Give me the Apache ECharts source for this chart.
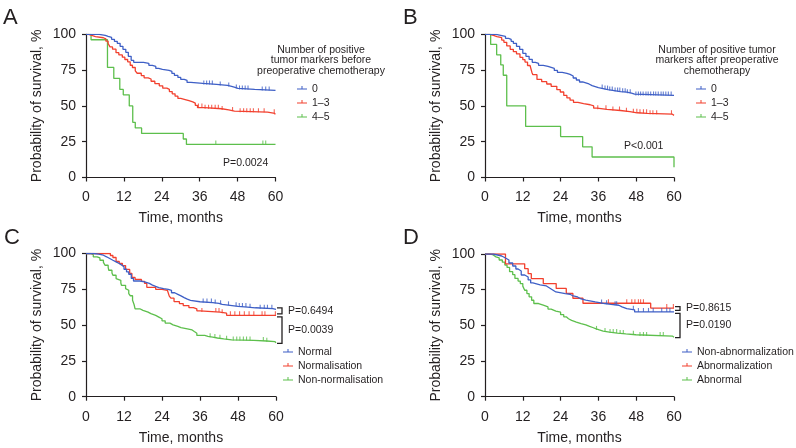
<!DOCTYPE html>
<html><head><meta charset="utf-8">
<script src="https://cdn.jsdelivr.net/npm/echarts/dist/echarts.min.js"></script>
<style>html,body{margin:0;padding:0;background:#fff}#c{width:796px;height:448px}</style>
</head><body><div id="c"></div>
<script>
// ---------- data (time in months, survival in %) ----------
const namesA = ['0', '1–3', '4–5'];
const namesB = ['0', '1–3', '4–5'];
const namesC = ['Normal', 'Normalisation', 'Non-normalisation'];
const namesD = ['Non-abnormalization', 'Abnormalization', 'Abnormal'];

const kmA0 = [[0,100],[4.2,99.3],[6.1,98.6],[7.0,97.9],[8.1,96.5],[9.0,95.1],[9.9,93.7],[10.8,91.6],[11.7,89.5],[12.6,87.4],[13.4,84.6],[14.3,81.8],[15.1,80.4],[18.2,79.7],[19.9,78.3],[21.0,77.6],[22.1,76.2],[23.0,75.5],[24.2,74.8],[26.3,74.1],[27.2,72.7],[28.0,71.3],[29.1,69.9],[30.0,68.5],[31.1,67.8],[32.0,66.4],[33.2,65.7],[37.0,65.0],[41.3,64.3],[44.8,63.6],[46.1,62.9],[47.2,62.2],[48.1,61.5],[53.4,60.8],[60,60.8]];
const kmA1 = [[0,100],[0.8,99.2],[1.8,98.4],[3.0,97.6],[5.5,96.8],[6.3,95.2],[7.0,93.6],[7.6,91.2],[8.4,89.6],[9.5,87.2],[10.4,85.6],[11.5,84.0],[12.3,82.4],[13.2,80.8],[14.0,78.4],[14.7,76.8],[15.6,74.4],[16.2,72.8],[17.5,71.2],[18.4,69.6],[19.7,68.8],[20.6,67.2],[21.8,65.6],[23.2,64.0],[24.3,62.4],[25.6,61.6],[26.4,60.0],[27.3,58.4],[28.2,56.8],[29.1,55.2],[30.0,54.4],[31.4,53.6],[32.6,52.8],[33.8,52.0],[34.6,50.4],[35.3,48.8],[37.5,48.0],[43.0,47.2],[45.2,46.4],[47.0,45.6],[57.5,44.8],[59.8,44.0],[60,44.0]];
const kmA2 = [[0,100],[1.6,96.2],[6.8,76.9],[8.8,69.2],[10.7,61.5],[11.8,57.7],[13.7,50.0],[14.8,38.5],[15.6,34.6],[17.6,30.8],[30.8,26.9],[31.8,23.1],[60,23.1]];
const censA0 = [37.3,38.2,39.1,40.0,42.5,45.2,47.6,48.6,49.5,50.4,51.3,55.8,56.9,58.0];
const censA1 = [35.6,36.7,37.7,38.8,39.8,40.9,41.9,43.1,46.4,48.8,49.9,50.9,52.0,53.0,54.6,56.4,59.6];
const censA2 = [41.1,56.0,56.9];

const kmB0 = [[0,100],[3.5,99.3],[5.0,98.6],[6.5,97.2],[7.5,96.5],[8.3,95.1],[9.0,93.7],[10.0,91.6],[11.0,89.5],[12.0,86.7],[13.0,84.6],[14.0,82.5],[15.0,80.4],[16.0,79.7],[17.0,78.3],[18.5,77.6],[20.0,76.9],[21.0,76.2],[22.0,74.8],[23.0,73.4],[24.5,72.7],[26.0,72.0],[27.0,70.9],[28.0,69.5],[29.0,68.1],[30.0,66.7],[31.0,66.0],[32.0,65.3],[33.0,64.2],[34.0,63.5],[35.0,62.8],[36.0,62.1],[37.5,61.4],[39.0,60.7],[41.0,60.0],[43.0,59.6],[45.0,58.9],[46.5,58.2],[47.5,57.3],[60,57.3]];
const kmB1 = [[0,100],[1.5,99.2],[2.7,98.4],[3.8,97.6],[5.3,96.0],[6.0,94.4],[6.9,91.9],[8.0,89.5],[9.0,87.9],[10.0,86.3],[11.1,83.9],[12.0,82.3],[12.7,80.6],[13.5,78.2],[14.3,77.4],[14.6,75.8],[14.9,73.4],[15.2,71.8],[16.5,68.5],[18.0,66.9],[19.6,65.3],[21.0,63.7],[22.8,61.3],[23.9,59.7],[25.0,57.3],[26.0,55.6],[27.0,54.0],[28.1,52.4],[29.5,51.6],[31.3,50.8],[33.4,50.0],[34.5,48.4],[35.6,47.6],[38.7,46.8],[43.0,46.0],[46.0,45.2],[48.3,44.8],[51.5,44.2],[59.5,43.4],[60,43.4]];
const kmB2 = [[0,100],[1.8,92.9],[3.7,85.7],[5.0,78.6],[5.8,71.4],[6.9,50.0],[12.9,35.7],[24.0,28.6],[31.0,21.4],[34.0,14.3],[60,7.1]];
const censB0 = [37.2,38.1,38.9,39.6,40.4,41.3,42.1,42.8,43.7,44.5,45.2,46.1,47.9,48.7,49.4,50.2,51.1,51.8,52.6,53.5,54.2,55.0,55.9,56.6,57.4,58.2,59.1];
const censB1 = [35.8,38.4,40.6,42.7,44.9,47.1,48.2,49.2,50.3,51.3,52.4,53.3,54.5,59.2];
const censB2 = [];

const kmC0 = [[0,100],[2.3,99.5],[4.0,98.8],[5.5,97.7],[6.5,96.5],[7.5,95.3],[8.5,94.2],[9.5,93.0],[10.5,91.9],[11.3,90.7],[12.0,89.0],[12.8,87.2],[13.5,85.5],[14.3,82.6],[15.0,80.8],[17.0,80.2],[18.5,79.1],[20.0,77.9],[21.0,77.0],[22.0,76.2],[23.0,75.5],[24.5,74.9],[26.0,74.3],[27.0,72.6],[28.0,71.5],[29.0,70.4],[30.0,69.2],[31.0,68.1],[32.0,67.3],[33.0,66.3],[36.0,65.7],[40.0,65.1],[42.0,64.5],[43.0,63.8],[45.5,63.1],[48.0,62.6],[51.0,62.1],[53.5,61.5],[59.0,61.0],[60,61.0]];
const kmC1 = [[0,100],[7.7,98.6],[8.5,97.2],[9.5,94.4],[10.5,93.0],[11.5,91.6],[12.5,88.9],[13.8,86.1],[14.5,83.3],[15.5,81.9],[17.5,80.5],[18.5,79.1],[19.2,76.4],[22.0,75.0],[24.0,74.3],[25.7,73.0],[26.3,70.2],[26.8,68.8],[27.8,66.4],[29.5,65.0],[30.7,63.6],[32.5,62.2],[33.9,61.4],[35.0,60.0],[36.0,59.1],[42.3,58.3],[44.4,56.8],[60,56.8]];
const kmC2 = [[0,100],[1.5,99.2],[2.3,97.7],[3.5,96.9],[4.4,95.3],[5.5,93.8],[6.0,91.8],[7.0,90.3],[7.2,88.3],[8.2,86.4],[8.5,84.8],[9.5,82.5],[10.0,81.3],[11.0,79.4],[11.2,77.8],[12.5,75.5],[12.7,74.3],[13.5,72.0],[14.0,70.5],[14.7,67.3],[15.2,64.2],[15.5,61.4],[17.0,60.3],[18.0,59.1],[19.6,58.0],[20.5,56.8],[22.0,55.6],[23.0,54.4],[24.0,53.0],[25.0,51.4],[26.5,50.2],[27.5,49.1],[29.0,48.2],[30.0,47.4],[32.0,46.6],[33.5,45.5],[34.2,44.3],[35.0,42.8],[37.5,42.2],[38.5,41.6],[40.0,41.0],[41.5,40.4],[43.5,39.7],[46.0,39.3],[53.0,38.9],[57.0,38.4],[59.7,37.6],[60,37.6]];
const censC0 = [37.0,38.2,39.6,40.8,42.5,45.0,47.4,48.4,49.4,50.5,51.8,55.0,56.3,57.3,58.7];
const censC1 = [36.6,41.0,42.0,43.0,45.6,47.0,48.5,50.0,51.5,53.0,55.6,56.5,59.8];
const censC2 = [39.2,40.7,42.3,44.4,46.5,47.6,48.6,49.7,50.7,51.8,56.0,57.1];

const kmD0 = [[0,100],[2.6,99.3],[4.0,98.6],[5.3,97.2],[6.5,95.8],[7.6,93.7],[8.8,91.6],[9.8,89.5],[10.5,88.1],[11.5,85.3],[12.6,83.9],[13.7,81.8],[14.5,79.7],[15.2,78.3],[17.5,77.6],[19.5,76.2],[20.5,74.8],[21.5,73.4],[22.5,72.3],[25.5,71.8],[27.0,70.6],[28.0,69.9],[29.4,68.5],[30.5,67.6],[32.0,66.4],[35.0,65.3],[38.0,64.7],[40.0,64.1],[42.5,63.0],[43.5,61.7],[45.0,60.9],[47.5,59.4],[60,59.4]];
const kmD1 = [[0,100],[6.5,93.1],[12.6,89.7],[13.7,86.2],[14.7,82.8],[18.5,79.3],[22.6,75.9],[25.8,72.4],[27.9,69.0],[31.1,65.5],[52.6,62.1],[60,62.1]];
const kmD2 = [[0,100],[1.5,99.3],[2.6,98.0],[3.5,97.3],[4.5,95.8],[5.5,94.3],[6.3,92.3],[7.0,90.6],[7.8,87.6],[8.8,85.5],[9.5,82.9],[10.5,81.0],[11.2,79.3],[12.0,77.5],[12.6,74.6],[13.3,72.3],[14.0,70.0],[14.8,67.6],[15.5,65.3],[17.0,64.1],[18.5,62.9],[20.0,61.4],[21.0,60.0],[22.5,59.2],[24.0,57.5],[25.0,56.0],[25.8,54.6],[26.5,53.5],[27.5,52.3],[29.0,51.2],[30.5,50.4],[32.0,49.3],[33.2,48.5],[34.2,47.6],[35.3,46.8],[36.3,46.0],[37.5,45.3],[39.5,44.6],[42.0,44.0],[44.7,43.4],[47.9,42.5],[59.5,41.7],[60,41.7]];
const censD0 = [37.0,38.6,41.3,41.8,47.1,48.7,50.3,51.9,53.4,56.1,57.7,58.7];
const censD1 = [39.2,45.0,46.6,47.6,48.7,49.4,50.3,57.7,59.8];
const censD2 = [35.4,38.1,39.7,40.7,41.8,42.9,43.9,47.1,49.2,50.3,51.3,55.6,56.6];

const pA = 'P=0.0024';
const pB = 'P<0.001';
const pC = ['P=0.6494', 'P=0.0039'];
const pD = ['P=0.8615', 'P=0.0190'];
const titleA = 'Number of positive\ntumor markers before\npreoperative chemotherapy';
const titleB = 'Number of positive tumor\nmarkers after preoperative\nchemotherapy';

// ---------- styling / layout ----------
const FONT = "'Liberation Sans', Arial, Helvetica, sans-serif";
const INK = '#231f20';
const COLORS = ['#3e5fc6', '#f2402e', '#5dbf4c'];
const grids = [
  {left: 86, top: 34.3, width: 189.5, height: 143.2},
  {left: 485, top: 34.3, width: 189, height: 143.2},
  {left: 86, top: 253.5, width: 190, height: 143.2},
  {left: 485, top: 254, width: 189, height: 142.7}
];
const panels = [
  {names: namesA, km: [kmA0, kmA1, kmA2], cens: [censA0, censA1, censA2]},
  {names: namesB, km: [kmB0, kmB1, kmB2], cens: [censB0, censB1, censB2]},
  {names: namesC, km: [kmC0, kmC1, kmC2], cens: [censC0, censC1, censC2]},
  {names: namesD, km: [kmD0, kmD1, kmD2], cens: [censD0, censD1, censD2]}
];

function survAt(km, t) {
  let v = km[0][1];
  for (const p of km) { if (p[0] <= t) v = p[1]; else break; }
  return v;
}

const series = [];
panels.forEach((pn, gi) => {
  pn.km.forEach((km, k) => {
    series.push({
      type: 'line', name: pn.names[k], xAxisIndex: gi, yAxisIndex: gi,
      step: 'end', showSymbol: false, symbol: 'none', data: km,
      lineStyle: {color: COLORS[k], width: 1.3}, itemStyle: {color: COLORS[k]},
      z: 3 - k + 2, silent: true
    });
  });
  pn.cens.forEach((c, k) => {
    series.push({
      type: 'scatter', name: pn.names[k] + ' censored', xAxisIndex: gi, yAxisIndex: gi,
      data: c.map(t => [t, survAt(pn.km[k], t)]),
      symbol: 'rect', symbolSize: [1.1, 4], symbolOffset: [0, -2],
      itemStyle: {color: COLORS[k]}, silent: true, z: 6
    });
  });
});

const axisLine = {show: true, lineStyle: {color: INK, width: 1.2}};
const axisTick = {show: true, length: 4, lineStyle: {color: INK, width: 1.2}};
const xAxis = grids.map((g, i) => ({
  type: 'value', gridIndex: i, min: 0, max: 60, interval: 12,
  axisLine, axisTick, splitLine: {show: false},
  axisLabel: {fontSize: 14, color: INK, fontFamily: FONT, margin: 13},
  name: 'Time, months', nameLocation: 'middle', nameGap: 34,
  nameTextStyle: {fontSize: 14, color: INK, fontFamily: FONT}
}));
const yAxis = grids.map((g, i) => ({
  type: 'value', gridIndex: i, min: 0, max: 100, interval: 25,
  axisLine, axisTick, splitLine: {show: false},
  axisLabel: {fontSize: 14, color: INK, fontFamily: FONT, margin: 10},
  name: 'Probability of survival, %', nameLocation: 'middle', nameGap: 42,
  nameTextStyle: {fontSize: 14, color: INK, fontFamily: FONT}
}));

const ICON = 'path://M0,4 L10,4 L10,5 L0,5 Z M4.5,1.6 L5.5,1.6 L5.5,4 L4.5,4 Z M0,0 L0.01,0 L0,0.01 Z M0,9 L0.01,9 L0,8.99 Z';
const legendPos = [{left: 297, top: 83}, {left: 696, top: 83}, {left: 283, top: 346}, {left: 682, top: 346}];
const legend = panels.map((pn, i) => ({
  data: pn.names, orient: 'vertical', left: legendPos[i].left, top: legendPos[i].top,
  padding: 0, itemGap: 2, itemWidth: 10, itemHeight: 9, icon: ICON,
  itemStyle: {borderWidth: 0}, selectedMode: false,
  textStyle: {fontSize: 10.5, lineHeight: 12, color: INK, fontFamily: FONT, padding: [0, 0, 0, 0]}
}));

const chart = echarts.init(document.getElementById('c'), null, {renderer: 'canvas'});
chart.setOption({
  animation: false, backgroundColor: '#fff',
  grid: grids, xAxis, yAxis, legend, series
});

// ---------- annotations ----------
function txt(x, y, text, size, align, extra) {
  return Object.assign({type: 'text', x, y, silent: true, style: {
    text, fontSize: size, fontFamily: FONT, fill: INK, align: align || 'left', verticalAlign: 'middle'
  }}, extra || {});
}
const graphic = [
  txt(3, 17.5, 'A', 22), txt(403, 17.5, 'B', 22),
  txt(4, 238, 'C', 22), txt(403, 238, 'D', 22),
  {type: 'text', x: 321, y: 44.5, silent: true, style: {text: titleA, fontSize: 10.5, lineHeight: 10.5, fontFamily: FONT, fill: INK, align: 'center', verticalAlign: 'top'}},
  {type: 'text', x: 717, y: 44.5, silent: true, style: {text: titleB, fontSize: 10.5, lineHeight: 10.5, fontFamily: FONT, fill: INK, align: 'center', verticalAlign: 'top'}},
  txt(223, 163, pA, 10.5), txt(624, 146, pB, 10.5)
];
function brackets(gi, kms, labels) {
  const ends = kms.map(km => km[km.length - 1][1]);
  const px = v => chart.convertToPixel({gridIndex: gi}, [60, v]);
  const x60 = px(50)[0];
  const ys = ends.map(v => px(v)[1]);
  const spans = [[ys[0] - 1.5, ys[1] - 1.5], [ys[1] + 1.5, ys[2] + 0.5]];
  spans.forEach((s, j) => {
    const x0 = x60 + 1, x1 = x60 + 6;
    graphic.push({type: 'polyline', silent: true, shape: {points: [[x0, s[0]], [x1, s[0]], [x1, s[1]], [x0, s[1]]]},
      style: {stroke: INK, lineWidth: 1.3, fill: null}});
    graphic.push(txt(x60 + 12, (s[0] + s[1]) / 2, labels[j], 10.5));
  });
}
brackets(2, [kmC0, kmC1, kmC2], pC);
brackets(3, [kmD1, kmD0, kmD2], pD);
chart.setOption({graphic});
</script></body></html>
